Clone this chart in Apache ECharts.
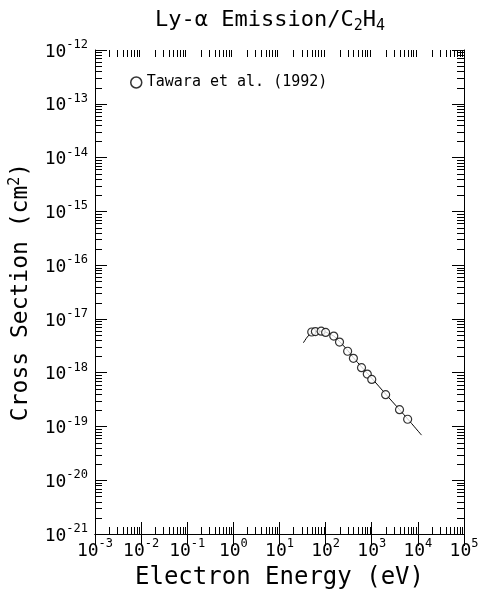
<!DOCTYPE html>
<html><head><meta charset="utf-8">
<script src="https://cdn.jsdelivr.net/npm/echarts@6/dist/echarts.min.js"></script>
<style>html,body{margin:0;padding:0;background:#fff}#c{width:482px;height:599px}</style>
</head><body><div id="c"></div>
<script>
// axis ranges (decades)
const xMin = 1e-3, xMax = 1e5;
const yMin = 0.9999999e-21, yMax = 1e-12;
// Tawara et al. (1992) measured points
const tawaraEnergy = [50, 60, 80, 100, 150, 200, 300, 400, 600, 800, 1000, 2000, 4000, 6000];
const tawaraSigma = [5.7e-18, 5.8e-18, 5.9e-18, 5.6e-18, 4.8e-18, 3.7e-18, 2.5e-18, 1.85e-18, 1.24e-18, 9.4e-19, 7.5e-19, 3.9e-19, 2.05e-19, 1.36e-19];
// recommended (fitted) curve
const fitEnergy = [33, 40, 50, 60, 80, 100, 150, 200, 300, 400, 600, 800, 1000, 2000, 4000, 6000, 12000];
const fitSigma = [3.6e-18, 4.6e-18, 5.5e-18, 5.8e-18, 5.9e-18, 5.7e-18, 4.8e-18, 3.8e-18, 2.6e-18, 1.9e-18, 1.28e-18, 9.8e-19, 7.9e-19, 4.0e-19, 2.05e-19, 1.38e-19, 6.9e-20];

const FONT = '"DejaVu Sans Mono", monospace';
const MINOR_LEN = 7, MAJOR_LEN = 12;

function minorValues(lo, hi) {
  const out = [];
  for (let e = Math.round(Math.log10(lo)); e < Math.round(Math.log10(hi)); e++) {
    for (let m = 2; m <= 9; m++) out.push(m * Math.pow(10, e));
  }
  return out;
}
const xMinor = minorValues(xMin, xMax).map(v => [v, 1e-20]);
const yMinor = minorValues(yMin, yMax).map(v => [xMin, v]);

function expLabel(v) {
  const e = Math.round(Math.log10(v));
  return '{b|10}{s|' + e + '}';
}
const labelRich = {
  b: { fontFamily: FONT, fontSize: 18, color: '#000', lineHeight: 22, verticalAlign: 'bottom' },
  s: { fontFamily: FONT, fontSize: 12, color: '#000', lineHeight: 22, verticalAlign: 'top' }
};

function renderXMinor(params, api) {
  const cs = params.coordSys;
  const x = Math.round(api.coord([api.value(0), api.value(1)])[0]) + 0.5;
  const b = cs.y + cs.height, t = cs.y;
  return { type: 'group', children: [
    { type: 'line', shape: { x1: x, y1: b, x2: x, y2: b - MINOR_LEN }, style: { stroke: '#000', lineWidth: 1 } },
    { type: 'line', shape: { x1: x, y1: t, x2: x, y2: t + MINOR_LEN }, style: { stroke: '#000', lineWidth: 1 } }
  ]};
}
function renderYMinor(params, api) {
  const cs = params.coordSys;
  const y = Math.round(api.coord([api.value(0), api.value(1)])[1]) + 0.5;
  const l = cs.x, r = cs.x + cs.width;
  return { type: 'group', children: [
    { type: 'line', shape: { x1: l, y1: y, x2: l + MINOR_LEN, y2: y }, style: { stroke: '#000', lineWidth: 1 } },
    { type: 'line', shape: { x1: r, y1: y, x2: r - MINOR_LEN, y2: y }, style: { stroke: '#000', lineWidth: 1 } }
  ]};
}

const axisCommon = {
  type: 'log', logBase: 10,
  axisLine: { show: true, lineStyle: { color: '#000', width: 1 } },
  axisTick: { show: true, inside: true, length: MAJOR_LEN, lineStyle: { color: '#000', width: 1 } },
  splitLine: { show: false },
  minorTick: { show: false }
};

const chart = echarts.init(document.getElementById('c'), null, { renderer: 'canvas' });
chart.setOption({
  animation: false,
  backgroundColor: '#fff',
  title: {
    text: 'Ly-α Emission/C{sub|2}H{sub|4}',
    left: 150, top: 2,
    textStyle: {
      fontFamily: FONT, fontSize: 22, fontWeight: 'normal', color: '#000',
      rich: {
        sub: { fontFamily: FONT, fontSize: 15, color: '#000', verticalAlign: 'bottom', lineHeight: 27 }
      }
    }
  },
  legend: {
    data: ['Tawara et al. (1992)'],
    left: 125, top: 70,
    icon: 'circle', itemWidth: 11, itemHeight: 11,
    itemStyle: { color: '#fff', borderColor: '#000', borderWidth: 1.5 },
    textStyle: { fontFamily: FONT, fontSize: 15, color: '#000' }
  },
  grid: { left: 95, right: 18, top: 50, bottom: 65, outerBoundsMode: 'none' },
  xAxis: [
    Object.assign({}, axisCommon, {
      min: xMin, max: xMax, splitNumber: 8, position: 'bottom',
      axisLabel: { show: true, margin: 4, formatter: expLabel, rich: labelRich, showMinLabel: true, showMaxLabel: true, hideOverlap: false },
      name: 'Electron Energy (eV)', nameLocation: 'middle', nameGap: 32, nameMoveOverlap: false,
      nameTextStyle: { fontFamily: FONT, fontSize: 24, color: '#000' }
    }),
    Object.assign({}, axisCommon, {
      min: xMin, max: xMax, splitNumber: 8, position: 'top',
      axisLabel: { show: false }
    })
  ],
  yAxis: [
    Object.assign({}, axisCommon, {
      min: yMin, max: yMax, splitNumber: 9, position: 'left',
      axisLabel: { show: true, margin: 7, formatter: expLabel, rich: labelRich, showMinLabel: true, showMaxLabel: true, hideOverlap: false },
      name: 'Cross Section (cm{sup|2})', nameLocation: 'middle', nameGap: 60, nameMoveOverlap: false,
      nameTextStyle: {
        fontFamily: FONT, fontSize: 23, color: '#000',
        rich: { sup: { fontFamily: FONT, fontSize: 15, color: '#000', verticalAlign: 'top', lineHeight: 27 } }
      }
    }),
    Object.assign({}, axisCommon, {
      min: yMin, max: yMax, splitNumber: 9, position: 'right',
      axisLabel: { show: false }
    })
  ],
  series: [
    {
      type: 'custom', name: 'xminor', xAxisIndex: 0, yAxisIndex: 0,
      renderItem: renderXMinor, data: xMinor, silent: true, clip: false, z: 1
    },
    {
      type: 'custom', name: 'yminor', xAxisIndex: 0, yAxisIndex: 0,
      renderItem: renderYMinor, data: yMinor, silent: true, clip: false, z: 1
    },
    {
      type: 'line', name: 'fit', xAxisIndex: 0, yAxisIndex: 0,
      data: fitEnergy.map((e, i) => [e, fitSigma[i]]),
      showSymbol: false, smooth: 0.3,
      lineStyle: { color: '#000', width: 1 }, z: 2
    },
    {
      type: 'scatter', name: 'Tawara et al. (1992)', xAxisIndex: 0, yAxisIndex: 0,
      data: tawaraEnergy.map((e, i) => [e, tawaraSigma[i]]),
      symbol: 'circle', symbolSize: 8,
      itemStyle: { color: '#fff', borderColor: '#000', borderWidth: 1.2 }, z: 3
    }
  ]
});
</script>
</body></html>
